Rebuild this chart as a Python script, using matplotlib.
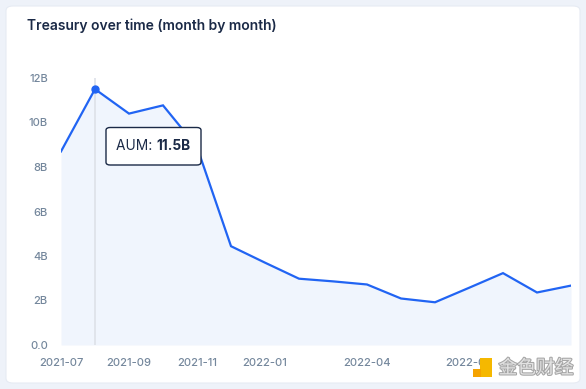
import matplotlib
matplotlib.use("Agg")
import matplotlib.pyplot as plt
from matplotlib.patches import FancyBboxPatch
import matplotlib.patheffects as pe

months = ["2021-07", "2021-08", "2021-09", "2021-10", "2021-11", "2021-12",
          "2022-01", "2022-02", "2022-03", "2022-04", "2022-05", "2022-06",
          "2022-07", "2022-08", "2022-09", "2022-10"]
aum_billions = [8.7, 11.5, 10.4, 10.77, 8.9, 4.44, 3.7, 2.98, 2.86, 2.72,
                2.09, 1.92, 2.57, 3.23, 2.36, 2.67]
label_months = ["2021-07", "2021-09", "2021-11", "2022-01", "2022-04", "2022-07"]
y_ticks = [0, 2, 4, 6, 8, 10, 12]
y_tick_labels = ["0.0", "2B", "4B", "6B", "8B", "10B", "12B"]
hover_month = "2021-08"

W, H = 586, 389
fig = plt.figure(figsize=(W / 100, H / 100), dpi=100)
fig.patch.set_facecolor("#eef2f9")

card = FancyBboxPatch((6 / W, 6 / H), 574 / W, 377 / H,
                      boxstyle="round,pad=0,rounding_size=0.012",
                      transform=fig.transFigure, facecolor="white",
                      edgecolor="#e6ebf3", linewidth=0.8, zorder=-5)
fig.patches.append(card)

fig.text(27 / W, 1 - 26 / H, "Treasury over time (month by month)",
         fontsize=10, fontweight="semibold", family=["Inter", "DejaVu Sans"],
         color="#1b2a47", va="center", ha="left")

left, right, bottom, top = 61, 571, 345, 78
ax = fig.add_axes([left / W, 1 - bottom / H, (right - left) / W, (bottom - top) / H])
ax.set_facecolor("none")
ax.set_zorder(1)

x = list(range(len(months)))
blue = "#2164f3"
ax.fill_between(x, aum_billions, 0, color="#f0f5fd", linewidth=0, zorder=1)
hx = months.index(hover_month)
ax.plot([hx, hx], [0, 12], color="#dfe3ea", linewidth=1.3, zorder=2)
ax.plot(x, aum_billions, color=blue, linewidth=1.6, zorder=3, solid_joinstyle="miter")
ax.plot([hx], [aum_billions[hx]], "o", color=blue, markersize=5, zorder=4)

ax.set_xlim(0, len(months) - 1)
ax.set_ylim(0, 12)
for s in ax.spines.values():
    s.set_visible(False)
ax.set_xticks([months.index(m) for m in label_months])
ax.set_xticklabels(label_months)
ax.set_yticks(y_ticks)
ax.set_yticklabels(y_tick_labels)
ax.tick_params(length=0, colors="#74879c", labelsize=8)
ax.tick_params(axis="x", pad=9)
ax.tick_params(axis="y", pad=9.5)
for lab in ax.get_xticklabels() + ax.get_yticklabels():
    lab.set_family(["Inter", "DejaVu Sans"])
    lab.set_fontweight("medium")

# tooltip
tip = FancyBboxPatch((106 / W, 1 - 165 / H), 95 / W, 37.5 / H,
                     boxstyle="round,pad=0,rounding_size=0.007",
                     transform=fig.transFigure, facecolor="white",
                     edgecolor="#1b2a47", linewidth=1.0, zorder=10)
fig.patches.append(tip)
t1 = fig.text(116.5 / W, 1 - 146.5 / H, "AUM: ", fontsize=9.9,
              family=["Inter", "DejaVu Sans"], color="#1b2a47",
              va="center", ha="left", zorder=11)
fig.canvas.draw()
bb = t1.get_window_extent()
fig.text(bb.x1 / W, 1 - 146.5 / H, f"{aum_billions[hx]:.1f}B", fontsize=9.9,
         fontweight="bold", family=["Inter", "DejaVu Sans"], color="#1b2a47",
         va="center", ha="left", zorder=11)

# watermark
logo = FancyBboxPatch((480 / W, 1 - 377 / H), 12 / W, 19 / H,
                      boxstyle="square,pad=0", transform=fig.transFigure,
                      facecolor="#f5b800", edgecolor="none", zorder=12)
fig.patches.append(logo)
logo2 = FancyBboxPatch((473 / W, 1 - 377 / H), 8 / W, 8 / H,
                       boxstyle="square,pad=0", transform=fig.transFigure,
                       facecolor="#f5a300", edgecolor="none", zorder=12)
fig.patches.append(logo2)
fig.text(536 / W, 1 - 368 / H, "金色财经", fontsize=13.5,
         family=["Noto Sans CJK SC", "DejaVu Sans"], color="#e2e2e2",
         va="center", ha="center", zorder=12,
         path_effects=[pe.withStroke(linewidth=1.5, foreground="#a5a5a5")])

fig.savefig("out.png", dpi=100, facecolor=fig.get_facecolor())
